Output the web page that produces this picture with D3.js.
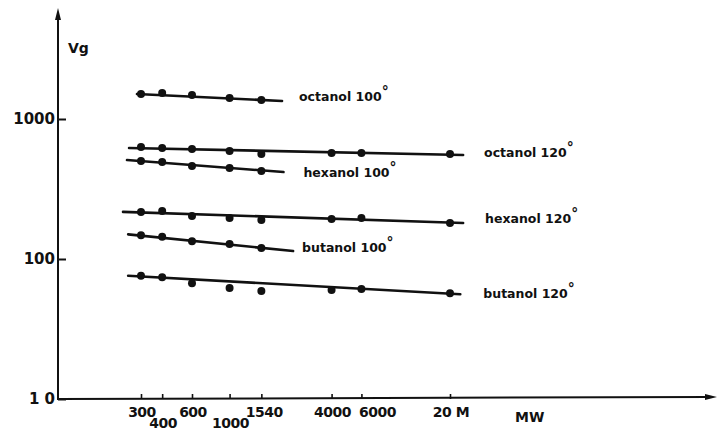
<!DOCTYPE html>
<html>
<head>
<meta charset="utf-8">
<script src="https://cdn.jsdelivr.net/npm/d3@7"></script>
<style>
  body { margin: 0; background: #fff; }
  svg { display: block; }
  text { font-family: "DejaVu Sans", sans-serif; font-weight: bold; fill: #111; }
</style>
</head>
<body>
<div id="chart"></div>
<script>
// molecular weights (x) and retention volumes Vg (y)
const mw100 = [300, 400, 600, 1000, 1540];
const mw120 = [300, 400, 600, 1000, 1540, 4000, 6000, 20000];

const octanol100 = [1510, 1535, 1483, 1413, 1367];
const octanol120 = [631, 621, 611, 591, 562, 572, 572, 562];
const hexanol100 = [501, 493, 462, 447, 425];
const hexanol120 = [217, 220, 203, 196, 190, 193, 196, 181];
const butanol100 = [148, 144, 134, 128, 120];
const butanol120 = [76, 74, 67, 62, 59, 60, 61, 57];

// fitted straight lines: [MW start, MW end], [Vg start, Vg end]
const octanol100Fit = [[284, 2040], [1510, 1345]];
const octanol120Fit = [[255, 23900], [621, 553]];
const hexanol100Fit = [[248, 2080], [509, 418]];
const hexanol120Fit = [[235, 23900], [217, 181]];
const butanol100Fit = [[252, 2370], [150, 114]];
const butanol120Fit = [[252, 23000], [76, 56]];

const seriesNames = ["octanol 100", "octanol 120", "hexanol 100", "hexanol 120", "butanol 100", "butanol 120"];

const mwTicks = [300, 400, 600, 1000, 1540, 4000, 6000, 20000];
const mwTickLabels = ["300", "400", "600", "1000", "1540", "4000", "6000", "20 M"];
const vgTicks = [10, 100, 1000];
const vgTickLabels = ["1 0", "100", "1000"];

const width = 718, height = 430;

const series = [
  { name: seriesNames[0], mw: mw100, vg: octanol100, fit: octanol100Fit, dx: 17, dy: 0 },
  { name: seriesNames[1], mw: mw120, vg: octanol120, fit: octanol120Fit, dx: 21, dy: 2 },
  { name: seriesNames[2], mw: mw100, vg: hexanol100, fit: hexanol100Fit, dx: 20, dy: 5 },
  { name: seriesNames[3], mw: mw120, vg: hexanol120, fit: hexanol120Fit, dx: 22, dy: 0 },
  { name: seriesNames[4], mw: mw100, vg: butanol100, fit: butanol100Fit, dx: 9, dy: 1 },
  { name: seriesNames[5], mw: mw120, vg: butanol120, fit: butanol120Fit, dx: 23, dy: 4 }
];

// + SCALES (log-log)
const xScale = d3.scaleLog().domain([300, 20000]).range([141, 450]);
const yScale = d3.scaleLog().domain([10, 1000]).range([399, 119]);

const axisX = 58, axisY = 399;

const svg = d3.select("#chart").append("svg")
  .attr("width", width)
  .attr("height", height);

svg.append("rect").attr("width", width).attr("height", height).attr("fill", "#fff");

// + AXES
const yAxis = d3.axisRight(yScale)
  .tickValues(vgTicks)
  .tickSize(8)
  .tickFormat("");

const gy = svg.append("g")
  .attr("transform", `translate(${axisX},0)`)
  .call(yAxis);
gy.select(".domain").remove();
gy.selectAll(".tick line").attr("stroke", "#111").attr("stroke-width", 2);

svg.append("line")
  .attr("x1", axisX).attr("x2", axisX)
  .attr("y1", axisY + 1).attr("y2", 14)
  .attr("stroke", "#111").attr("stroke-width", 2);
svg.append("path")
  .attr("d", `M${axisX},8 L${axisX - 3},20 L${axisX + 3},20 Z`)
  .attr("fill", "#111");

svg.selectAll(".ylab")
  .data(vgTicks)
  .join("text")
  .attr("class", "ylab")
  .attr("x", axisX - 3)
  .attr("y", d => yScale(d))
  .attr("dy", "0.36em")
  .attr("text-anchor", "end")
  .attr("font-size", 15)
  .text((d, i) => vgTickLabels[i]);

const xAxis = d3.axisTop(xScale)
  .tickValues(mwTicks)
  .tickSize(5)
  .tickFormat("");

const gx = svg.append("g")
  .attr("transform", `translate(0,${axisY})`)
  .call(xAxis);
gx.select(".domain").remove();
gx.selectAll(".tick line").attr("stroke", "#111").attr("stroke-width", 1.6);

svg.append("line")
  .attr("x1", axisX).attr("x2", 710)
  .attr("y1", axisY).attr("y2", axisY - 2)
  .attr("stroke", "#111").attr("stroke-width", 2);
svg.append("path")
  .attr("d", `M717,${axisY - 2} L705,${axisY - 5} L705,${axisY + 1} Z`)
  .attr("fill", "#111");

// second-row labels (400, 1000) and the 6000 label pushed right
const lowRow = ["400", "1000"];
svg.selectAll(".xlab")
  .data(mwTicks)
  .join("text")
  .attr("class", "xlab")
  .attr("x", (d, i) => xScale(d) + (mwTickLabels[i] === "6000" ? 16 : mwTickLabels[i] === "1540" ? 3 : 1))
  .attr("y", (d, i) => lowRow.includes(mwTickLabels[i]) ? 428 : 417)
  .attr("text-anchor", "middle")
  .attr("font-size", 14)
  .attr("letter-spacing", -0.5)
  .text((d, i) => mwTickLabels[i]);

svg.append("text")
  .attr("x", 515).attr("y", 422)
  .attr("font-size", 14)
  .text("MW");

svg.append("text")
  .attr("x", 68).attr("y", 53)
  .attr("font-size", 14)
  .text("Vg");

// + FITTED LINES
const line = d3.line()
  .x(d => xScale(d[0]))
  .y(d => yScale(d[1]));

svg.selectAll(".fit")
  .data(series)
  .join("path")
  .attr("class", "fit")
  .attr("fill", "none")
  .attr("stroke", "#111")
  .attr("stroke-width", 2.6)
  .attr("stroke-linecap", "round")
  .attr("d", s => line(s.fit[0].map((m, i) => [m, s.fit[1][i]])));

// + POINTS
series.forEach(s => {
  svg.append("g")
    .selectAll("circle")
    .data(s.mw.map((m, i) => [m, s.vg[i]]))
    .join("circle")
    .attr("cx", d => xScale(d[0]))
    .attr("cy", d => yScale(d[1]))
    .attr("r", 4)
    .attr("fill", "#111");
});

// + SERIES LABELS
const lab = svg.selectAll(".slab")
  .data(series)
  .join("text")
  .attr("class", "slab")
  .attr("x", s => xScale(s.fit[0][1]) + s.dx)
  .attr("y", s => yScale(s.fit[1][1]) + s.dy)
  .attr("font-size", 12.5);
lab.append("tspan").text(s => s.name);
lab.append("tspan")
  .attr("dy", -5)
  .attr("font-size", 14)
  .text("°");
</script>
</body>
</html>
